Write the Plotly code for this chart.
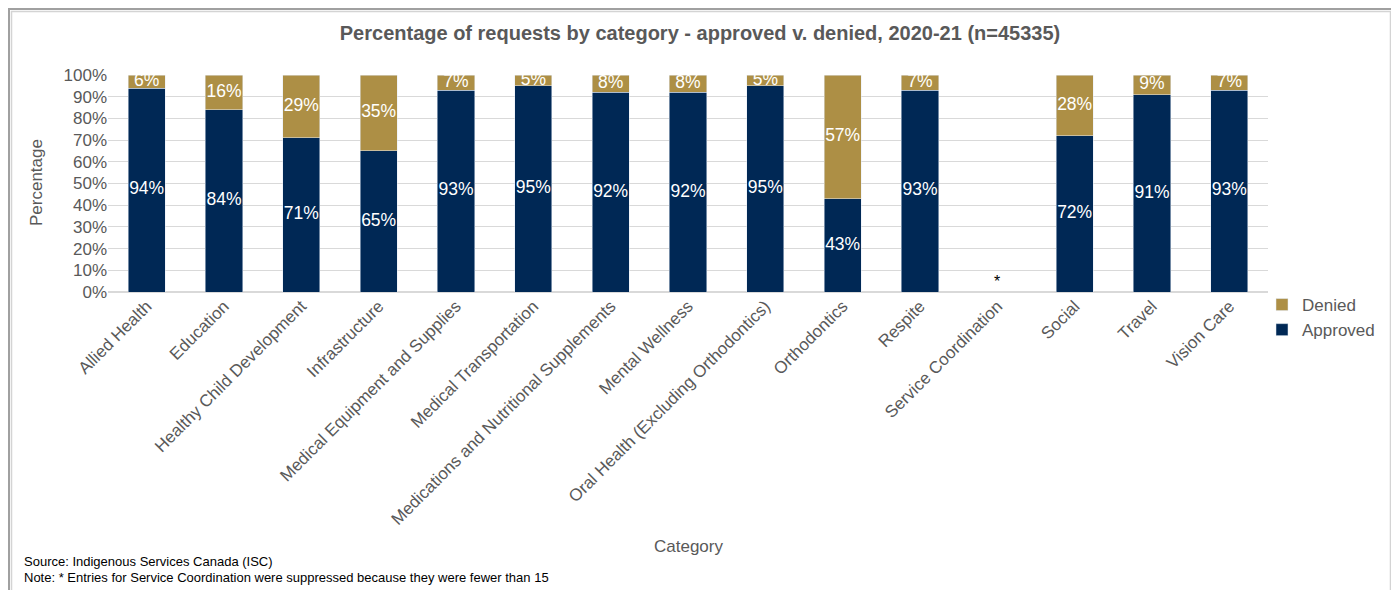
import plotly.graph_objects as go

categories = ["Allied Health", "Education", "Healthy Child Development", "Infrastructure",
              "Medical Equipment and Supplies", "Medical Transportation",
              "Medications and Nutritional Supplements", "Mental Wellness",
              "Oral Health (Excluding Orthodontics)", "Orthodontics", "Respite",
              "Service Coordination", "Social", "Travel", "Vision Care"]
approved = [94, 84, 71, 65, 93, 95, 92, 92, 95, 43, 93, None, 72, 91, 93]
denied = [6, 16, 29, 35, 7, 5, 8, 8, 5, 57, 7, None, 28, 9, 7]

NAVY = "#002855"
GOLD = "#AD8F45"
GREY = "#595959"
FONT = "Liberation Sans, Arial, sans-serif"

# page is drawn with an 8px body margin, so the figure is sized to fit inside it
W, H = 1391, 582
L, T, PW, PH = 100, 67, 1160, 217


def px(x):
    return (x - 8 - L) / PW


def py(y):
    return (T + PH - (y - 8)) / PH


fig = go.Figure()
fig.add_trace(go.Bar(x=categories, y=approved, name="Approved", marker_color=NAVY, width=0.48))
fig.add_trace(go.Bar(x=categories, y=denied, name="Denied", marker_color=GOLD, width=0.48))

# data labels in the middle of each segment
ax, ay, at, dx, dy, dt = [], [], [], [], [], []
for c, a, d in zip(categories, approved, denied):
    if a is None:
        continue
    ax.append(c); ay.append(a / 2); at.append(f"{a}%")
    dx.append(c); dy.append(a + d / 2); dt.append(f"{d}%")
for xs, ys, ts in [(ax, ay, at), (dx, dy, dt)]:
    fig.add_trace(go.Scatter(x=xs, y=ys, text=ts, mode="text", showlegend=False,
                             hoverinfo="skip", cliponaxis=False,
                             textfont=dict(color="white", size=17.5, family=FONT)))

fig.add_annotation(x="Service Coordination", y=5, text="*", showarrow=False,
                   font=dict(color="black", size=16, family=FONT))

fig.add_annotation(x=px(36), y=py(183), xref="paper", yref="paper", text="Percentage",
                   textangle=-90, xanchor="center", yanchor="middle", showarrow=False,
                   font=dict(color=GREY, size=17, family=FONT))
fig.add_annotation(x=px(688), y=py(546), xref="paper", yref="paper", text="Category",
                   xanchor="center", yanchor="middle", showarrow=False,
                   font=dict(color=GREY, size=17, family=FONT))
fig.add_annotation(x=px(22), y=py(561), xref="paper", yref="paper", xanchor="left", yanchor="middle",
                   text="Source: Indigenous Services Canada (ISC)",
                   showarrow=False, font=dict(color="black", size=13, family=FONT))
fig.add_annotation(x=px(22), y=py(577), xref="paper", yref="paper", xanchor="left", yanchor="middle",
                   text="Note: * Entries for Service Coordination were suppressed because they were fewer than 15",
                   showarrow=False, font=dict(color="black", size=13, family=FONT))

# outer frame
fig.add_shape(type="rect", xref="paper", yref="paper", x0=px(9), x1=px(1393), y0=py(620), y1=py(9),
              line=dict(color="#A0A0A0", width=2))
fig.add_shape(type="rect", xref="paper", yref="paper", x0=px(11.5), x1=px(1390.5), y0=py(620), y1=py(11.5),
              line=dict(color="#D4D4D4", width=1.5))

fig.update_layout(
    barmode="stack",
    width=W, height=H,
    margin=dict(l=L, r=W - L - PW, t=T, b=H - T - PH),
    paper_bgcolor="white", plot_bgcolor="white",
    font=dict(family=FONT, color=GREY, size=17),
    title=dict(text="<b>Percentage of requests by category - approved v. denied, 2020-21 (n=45335)</b>",
               x=(700 - 8) / W, xref="container", xanchor="center",
               y=1 - (33 - 8) / H, yanchor="middle",
               font=dict(size=20, color=GREY, family=FONT)),
    legend=dict(x=px(1262), y=py(287), xanchor="left", yanchor="top", traceorder="reversed",
                font=dict(size=17, color=GREY), bgcolor="rgba(0,0,0,0)"),
    xaxis=dict(tickangle=-45, automargin=False, showline=False, ticks="",
               range=[-0.5, 14.5], tickfont=dict(size=17, color=GREY)),
    yaxis=dict(range=[0, 100], dtick=10, ticksuffix="%", automargin=False,
               gridcolor="#D9D9D9", gridwidth=1, zeroline=True, zerolinecolor="#D9D9D9",
               tickfont=dict(size=17, color=GREY)),
)

fig.write_html("out.html")
